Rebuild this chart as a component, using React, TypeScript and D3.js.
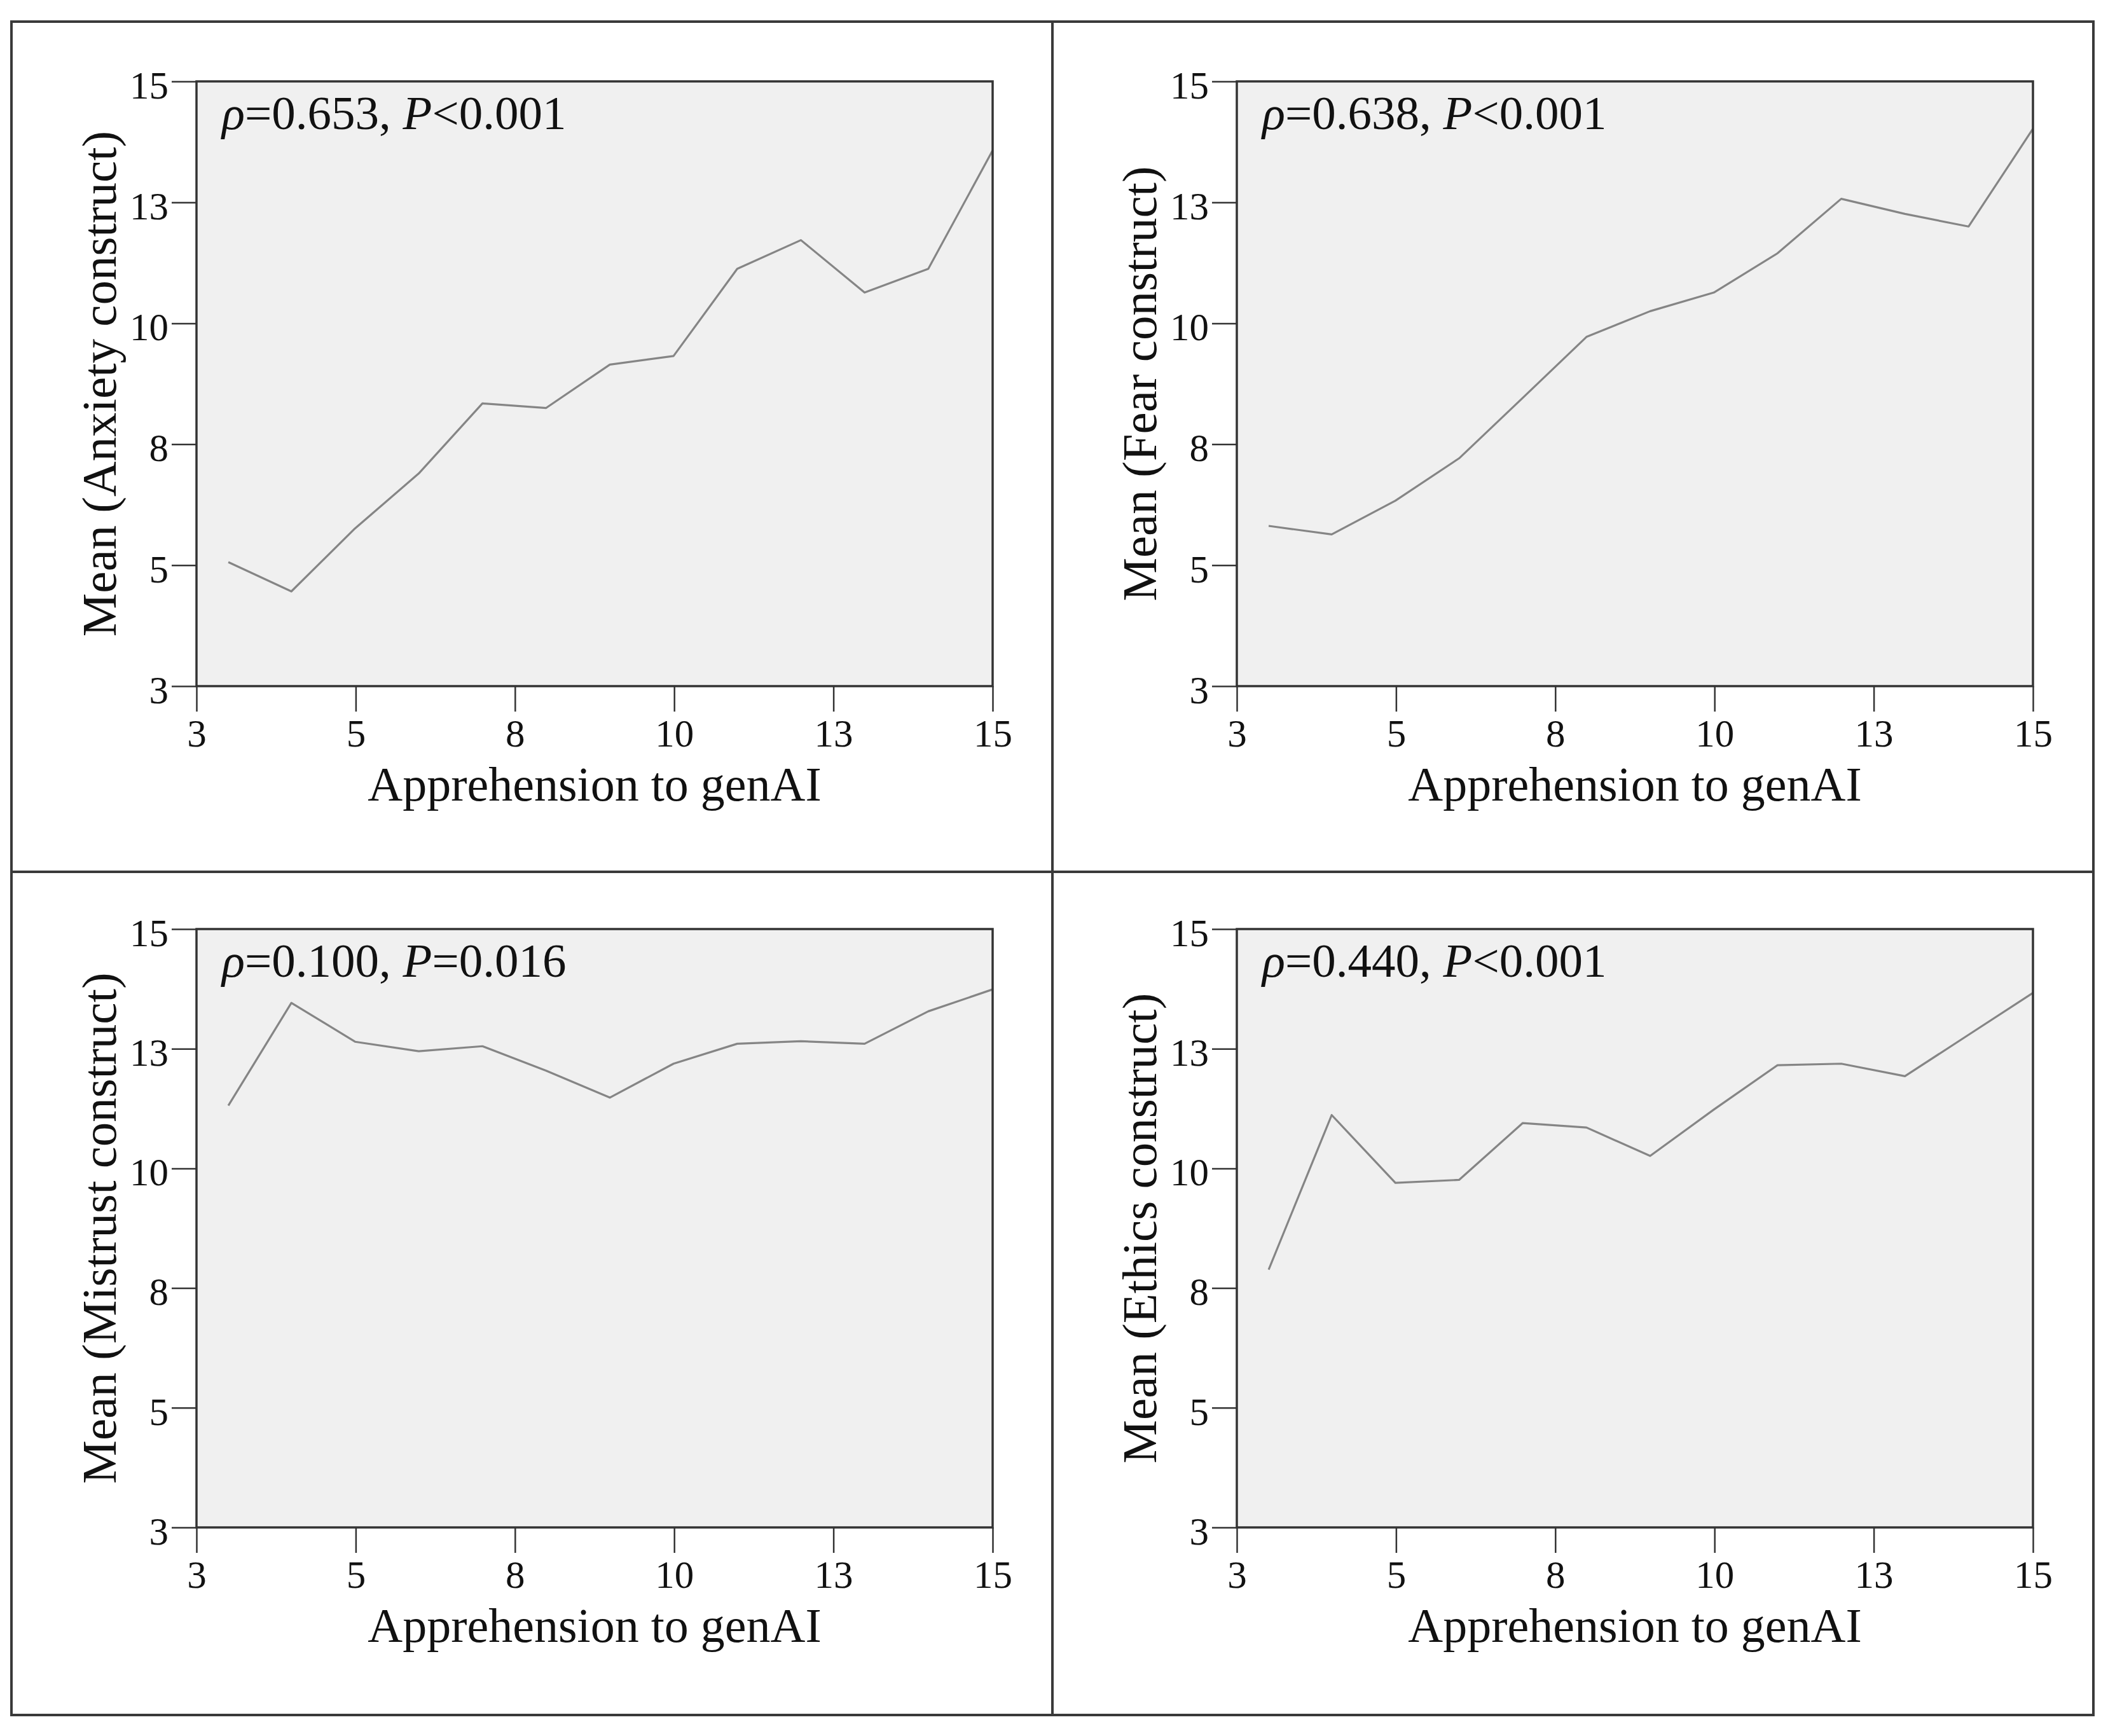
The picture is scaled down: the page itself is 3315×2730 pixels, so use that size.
import React, { useEffect, useRef } from 'react';
import * as d3 from 'd3';

// Apprehension to genAI (x positions of the category means)
const apprehension = [3.48, 4.43, 5.39, 6.35, 7.31, 8.27, 9.23, 10.19, 11.15, 12.11, 13.07, 14.03, 15];

// Mean construct score per apprehension level
const anxiety = [5.46, 4.88, 6.13, 7.22, 8.61, 8.52, 9.38, 9.55, 11.28, 11.85, 10.81, 11.28, 13.63];
const fear = [6.18, 6.01, 6.68, 7.52, 8.72, 9.93, 10.44, 10.81, 11.59, 12.67, 12.37, 12.12, 14.06];
const mistrust = [11.46, 13.52, 12.74, 12.55, 12.65, 12.16, 11.62, 12.3, 12.7, 12.75, 12.7, 13.35, 13.79];
const ethics = [8.17, 11.27, 9.91, 9.97, 11.11, 11.02, 10.45, 11.38, 12.27, 12.3, 12.05, 12.88, 13.72];

const constructNames = ['Anxiety', 'Fear', 'Mistrust', 'Ethics'];
const rhoValues = ['0.653', '0.638', '0.100', '0.440'];
const pSigns = ['<', '<', '=', '<'];
const pValues = ['0.001', '0.001', '0.016', '0.001'];

// ticks are evenly spaced, labels are rounded
const tickValues = [3, 5.4, 7.8, 10.2, 12.6, 15];

const W = 3315;
const H = 2730;
const FONT = '"Liberation Serif", "Times New Roman", serif';

const App: React.FC = () => {
   const svgRef = useRef<SVGSVGElement | null>(null);

   useEffect(() => {
      if (!svgRef.current) return;
      const svg = d3.select(svgRef.current);
      svg.selectAll('*').remove();

      svg.append('rect').attr('width', W).attr('height', H).attr('fill', 'white');

      const seriesList = [anxiety, fear, mistrust, ethics];
      const plotLeft = [309, 1945];
      const plotTop = [128, 1461];
      const plotHeight = [951, 941];
      const plotWidth = 1252;

      seriesList.forEach((series, i) => {
         const col = i % 2;
         const row = Math.floor(i / 2);
         const innerHeight = plotHeight[row];

         const x = d3.scaleLinear().domain([3, 15]).range([0, plotWidth]);
         const y = d3.scaleLinear().domain([3, 15]).range([innerHeight, 0]);

         const g = svg
            .append('g')
            .attr('transform', `translate(${plotLeft[col]},${plotTop[row]})`)
            .style('font-family', FONT);

         // plot background
         g.append('rect')
            .attr('width', plotWidth)
            .attr('height', innerHeight)
            .attr('fill', '#f0f0f0');

         // line of means
         const line = d3
            .line<number>()
            .x((_, j) => x(apprehension[j]))
            .y(d => y(d));

         g.append('path')
            .datum(series)
            .attr('fill', 'none')
            .attr('stroke', '#858585')
            .attr('stroke-width', 3.2)
            .attr('stroke-linejoin', 'round')
            .attr('d', line);

         // frame
         g.append('rect')
            .attr('width', plotWidth)
            .attr('height', innerHeight)
            .attr('fill', 'none')
            .attr('stroke', '#333')
            .attr('stroke-width', 3.5);

         const fmt = d3.format('.0f');

         const yAxis = g
            .append('g')
            .call(d3.axisLeft(y).tickValues(tickValues).tickFormat(d => fmt(d as number)).tickSize(39).tickPadding(5));
         yAxis.select('.domain').remove();
         yAxis.selectAll('line').attr('stroke', '#333').attr('stroke-width', 2.5);
         yAxis
            .selectAll('text')
            .attr('dy', '0.43em')
            .attr('fill', '#111')
            .style('font-size', '61px')
            .style('font-family', FONT);

         const xAxis = g
            .append('g')
            .attr('transform', `translate(0,${innerHeight})`)
            .call(d3.axisBottom(x).tickValues(tickValues).tickFormat(d => fmt(d as number)).tickSize(40).tickPadding(12));
         xAxis.select('.domain').remove();
         xAxis.selectAll('line').attr('stroke', '#333').attr('stroke-width', 2.5);
         xAxis
            .selectAll('text')
            .attr('fill', '#111')
            .style('font-size', '61px')
            .style('font-family', FONT);

         // axis titles
         g.append('text')
            .attr('x', plotWidth / 2)
            .attr('y', innerHeight + 180)
            .attr('text-anchor', 'middle')
            .attr('fill', '#111')
            .style('font-size', '76px')
            .text('Apprehension to genAI');

         g.append('text')
            .attr('transform', `translate(-127,${innerHeight / 2}) rotate(-90)`)
            .attr('text-anchor', 'middle')
            .attr('fill', '#111')
            .style('font-size', '77px')
            .text(`Mean (${constructNames[i]} construct)`);

         // correlation annotation
         const note = g
            .append('text')
            .attr('x', 40)
            .attr('y', 75)
            .attr('fill', '#111')
            .style('font-size', '75px');
         note.append('tspan').style('font-style', 'italic').text('ρ');
         note.append('tspan').text(`=${rhoValues[i]}, `);
         note.append('tspan').style('font-style', 'italic').text('P');
         note.append('tspan').text(`${pSigns[i]}${pValues[i]}`);
      });

      // outer table border and dividers
      const border = svg.append('g').attr('stroke', '#3a3a3a').attr('stroke-width', 4).attr('fill', 'none');
      border.append('rect').attr('x', 18).attr('y', 34).attr('width', 3274).attr('height', 2663);
      border.append('line').attr('x1', 1655).attr('x2', 1655).attr('y1', 34).attr('y2', 2697);
      border.append('line').attr('x1', 18).attr('x2', 3292).attr('y1', 1371).attr('y2', 1371);
   }, []);

   return (
      <div style={{ position: 'absolute', left: 0, top: 0, width: W, height: H }}>
         <svg ref={svgRef} width={W} height={H} viewBox={`0 0 ${W} ${H}`} style={{ display: 'block' }} />
      </div>
   );
};

export default App;
